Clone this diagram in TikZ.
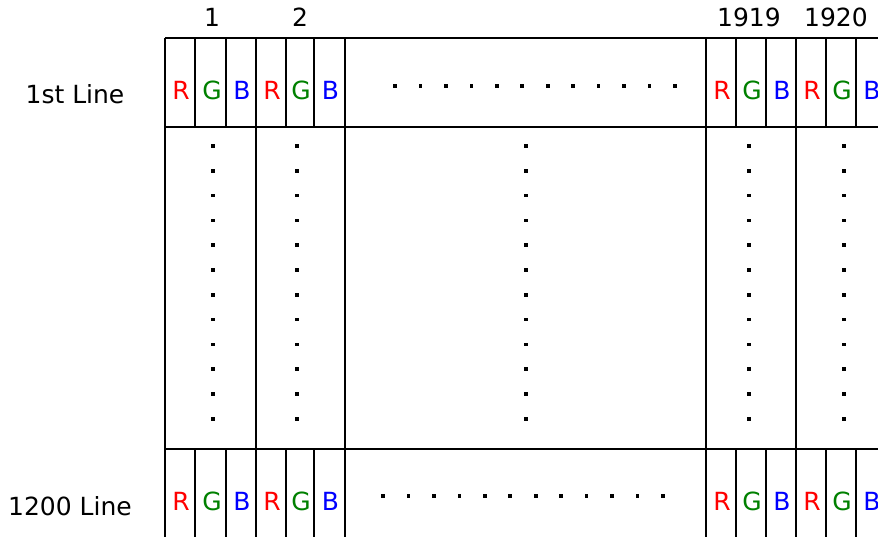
\documentclass[tikz,border=0pt]{standalone}
\usepackage{fontspec}
\setmainfont{DejaVu Sans}
\definecolor{subR}{RGB}{255,0,0}
\definecolor{subG}{RGB}{0,128,0}
\definecolor{subB}{RGB}{0,0,255}
\tikzset{
  lbl/.style={anchor=base, inner sep=0pt, font=\fontsize{25}{30}\selectfont},
  dotmark/.style={fill=black, minimum size=3.6pt, inner sep=0pt},
  thinline/.style={line width=1.5pt},
  thickline/.style={line width=2.1pt}
}
\begin{document}
\begin{tikzpicture}[x=1pt,y=-1pt]
    \useasboundingbox (0,0) rectangle (878,537);
    \clip (0,0) rectangle (878,537);

    % Labels
    \node[lbl] (col1) at (212,27) {1};
    \node[lbl] (col2) at (300,27) {2};
    \node[lbl] (col1919) at (749,27) {1919};
    \node[lbl] (col1920) at (836,27) {1920};
    \node[lbl] (rowfirst) at (75,104) {1st Line};
    \node[lbl] (rowlast) at (70,515) {1200 Line};

    % Sub-pixels
    \foreach \x/\c/\t [count=\i] in {181/subR/R, 212/subG/G, 242/subB/B,
        272/subR/R, 301/subG/G, 330.5/subB/B,
        722/subR/R, 752/subG/G, 782/subB/B,
        812/subR/R, 842/subG/G, 872/subB/B} {
      \node[lbl, text=\c] (top\i) at (\x,100) {\t};
      \node[lbl, text=\c] (bot\i) at (\x,510) {\t};
    }

    % Lines
    \draw[thickline] (165,38) -- (890,38);
    \draw[thickline] (165,127) -- (890,127);
    \draw[thickline] (165,449) -- (890,449);
    \foreach \x in {165,256,345,706,796,886}
      \draw[thickline] (\x,38) -- (\x,545);
    \foreach \x in {195,226,286,314,736,766,826,856} {
      \draw[thinline] (\x,38) -- (\x,127);
      \draw[thinline] (\x,449) -- (\x,545);
    }

    % Dots
    \foreach \i in {0,...,11} {
      \node[dotmark] (htop\i) at ({395+25.45*\i},86) {};
      \node[dotmark] (hbot\i) at ({383+25.45*\i},496) {};
    }
    \foreach \x [count=\j] in {213,297,526,749,844}
      \foreach \i in {0,...,11}
        \node[dotmark] (vdot\j-\i) at (\x,{146+24.8*\i}) {};

\end{tikzpicture}
\end{document}
